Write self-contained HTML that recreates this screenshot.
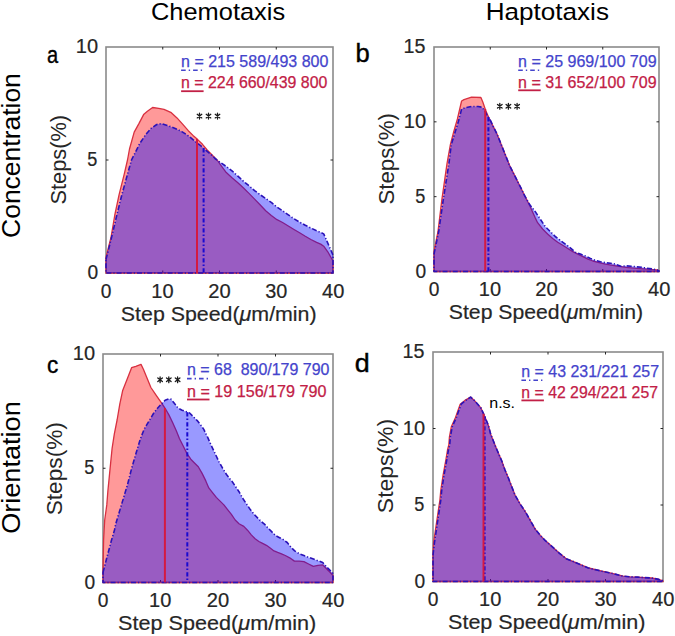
<!DOCTYPE html><html><head><meta charset="utf-8"><style>html,body{margin:0;padding:0;background:#fff;overflow:hidden}svg{display:block}text{font-family:"Liberation Sans",sans-serif;white-space:pre}</style></head><body>
<svg width="675" height="636" viewBox="0 0 675 636">
<rect width="675" height="636" fill="#fff"/>
<rect x="106" y="47" width="227" height="226" fill="none" stroke="#8a8a8a" stroke-width="1.6"/>
<line x1="162.75" y1="47" x2="162.75" y2="49.5" stroke="#262626" stroke-width="1"/>
<line x1="162.75" y1="273" x2="162.75" y2="270.5" stroke="#262626" stroke-width="1"/>
<line x1="219.50" y1="47" x2="219.50" y2="49.5" stroke="#262626" stroke-width="1"/>
<line x1="219.50" y1="273" x2="219.50" y2="270.5" stroke="#262626" stroke-width="1"/>
<line x1="276.25" y1="47" x2="276.25" y2="49.5" stroke="#262626" stroke-width="1"/>
<line x1="276.25" y1="273" x2="276.25" y2="270.5" stroke="#262626" stroke-width="1"/>
<line x1="106" y1="160.00" x2="108.5" y2="160.00" stroke="#262626" stroke-width="1"/>
<line x1="333" y1="160.00" x2="330.5" y2="160.00" stroke="#262626" stroke-width="1"/>
<path d="M106.0,257.3 L111.0,237.5 L114.8,215.0 L119.1,194.6 L124.3,173.9 L127.5,160.0 L129.5,149.0 L134.2,132.1 L138.9,123.6 L143.6,114.6 L147.4,111.3 L152.6,107.5 L158.7,108.3 L164.0,109.4 L171.3,112.7 L177.0,117.9 L182.6,124.1 L188.3,130.7 L193.0,135.4 L197.7,139.6 L202.5,144.3 L207.2,150.0 L212.8,155.7 L217.5,160.5 L220.7,165.1 L226.3,172.6 L232.0,177.8 L237.6,182.5 L243.3,187.7 L249.0,193.4 L254.6,199.1 L260.3,205.0 L265.7,210.8 L271.3,215.5 L277.0,219.7 L282.6,222.5 L288.3,226.0 L294.0,229.5 L299.6,232.8 L305.3,236.3 L310.9,239.5 L316.6,242.4 L320.7,244.1 L323.7,246.2 L327.8,251.8 L333.0,261.0 L333.0,273 L106.0,273 Z" fill="rgba(255,0,0,0.4)" stroke="#d83040" stroke-width="1.3" stroke-linejoin="round"/>
<path d="M106.0,259.5 L111.0,239.7 L117.2,213.5 L121.9,194.6 L127.6,173.9 L131.5,160.0 L135.1,152.8 L139.8,143.4 L145.5,134.9 L151.2,128.3 L156.8,124.5 L161.5,123.6 L165.7,125.0 L171.3,126.9 L177.0,129.2 L182.6,132.1 L188.3,135.8 L193.0,139.6 L197.7,143.4 L202.5,147.2 L207.2,151.4 L212.8,156.1 L215.0,158.5 L220.7,162.7 L226.3,166.5 L232.0,170.8 L237.6,175.9 L243.3,181.1 L249.0,185.8 L254.6,190.6 L260.3,194.8 L265.9,198.6 L271.6,202.6 L277.0,207.0 L282.6,210.8 L288.3,214.8 L294.0,218.8 L299.6,222.1 L305.3,225.3 L310.9,228.0 L315.6,230.3 L320.7,232.4 L323.7,233.9 L325.8,238.5 L328.9,245.7 L333.0,255.0 L333.0,273 L106.0,273 Z" fill="rgba(0,0,255,0.4)" stroke="#2a12b8" stroke-width="1.6" stroke-dasharray="5 2 1.2 2" stroke-linejoin="round"/>
<line x1="203.6" y1="148.2" x2="203.6" y2="273" stroke="#1a0ad0" stroke-width="2" stroke-dasharray="4.2 2 1.6 2.2"/>
<line x1="197.0" y1="139.0" x2="197.0" y2="273" stroke="#d41a42" stroke-width="2"/>
<text x="100.67" y="297.50" font-size="19.62" textLength="10.67" lengthAdjust="spacingAndGlyphs" fill="#262626" stroke="#262626" stroke-width="0.2">0</text>
<text x="151.25" y="297.50" font-size="19.62" textLength="22.26" lengthAdjust="spacingAndGlyphs" fill="#262626" stroke="#262626" stroke-width="0.2">10</text>
<text x="208.18" y="297.50" font-size="19.62" textLength="22.42" lengthAdjust="spacingAndGlyphs" fill="#262626" stroke="#262626" stroke-width="0.2">20</text>
<text x="265.21" y="297.50" font-size="19.62" textLength="22.10" lengthAdjust="spacingAndGlyphs" fill="#262626" stroke="#262626" stroke-width="0.2">30</text>
<text x="322.01" y="297.50" font-size="19.62" textLength="22.31" lengthAdjust="spacingAndGlyphs" fill="#262626" stroke="#262626" stroke-width="0.2">40</text>
<text x="87.38" y="279.00" font-size="19.62" textLength="10.67" lengthAdjust="spacingAndGlyphs" fill="#262626" stroke="#262626" stroke-width="0.2">0</text>
<text x="87.29" y="166.00" font-size="19.62" textLength="10.07" lengthAdjust="spacingAndGlyphs" fill="#262626" stroke="#262626" stroke-width="0.2">5</text>
<text x="75.83" y="53.00" font-size="19.62" textLength="22.26" lengthAdjust="spacingAndGlyphs" fill="#262626" stroke="#262626" stroke-width="0.2">10</text>
<rect x="434" y="47" width="225" height="224.5" fill="none" stroke="#8a8a8a" stroke-width="1.6"/>
<line x1="490.25" y1="47" x2="490.25" y2="49.5" stroke="#262626" stroke-width="1"/>
<line x1="490.25" y1="271.5" x2="490.25" y2="269.0" stroke="#262626" stroke-width="1"/>
<line x1="546.50" y1="47" x2="546.50" y2="49.5" stroke="#262626" stroke-width="1"/>
<line x1="546.50" y1="271.5" x2="546.50" y2="269.0" stroke="#262626" stroke-width="1"/>
<line x1="602.75" y1="47" x2="602.75" y2="49.5" stroke="#262626" stroke-width="1"/>
<line x1="602.75" y1="271.5" x2="602.75" y2="269.0" stroke="#262626" stroke-width="1"/>
<line x1="434" y1="196.67" x2="436.5" y2="196.67" stroke="#262626" stroke-width="1"/>
<line x1="659" y1="196.67" x2="656.5" y2="196.67" stroke="#262626" stroke-width="1"/>
<line x1="434" y1="121.83" x2="436.5" y2="121.83" stroke="#262626" stroke-width="1"/>
<line x1="659" y1="121.83" x2="656.5" y2="121.83" stroke="#262626" stroke-width="1"/>
<path d="M434.0,251.6 L438.0,231.5 L441.8,200.0 L447.0,163.6 L450.3,145.0 L453.6,132.2 L457.4,119.0 L461.6,101.0 L464.0,99.6 L471.5,97.1 L480.9,97.5 L482.8,102.0 L485.7,110.5 L489.4,118.9 L493.2,126.4 L497.0,134.0 L500.8,143.4 L504.5,152.8 L509.4,165.1 L513.2,172.6 L517.0,180.2 L520.8,187.7 L524.5,195.3 L528.3,202.8 L530.0,206.3 L535.1,217.6 L537.6,222.7 L542.6,229.0 L547.6,234.0 L552.7,238.4 L557.7,242.2 L562.7,245.3 L567.8,248.5 L572.8,251.6 L577.8,254.1 L582.9,256.6 L587.9,259.2 L592.9,261.0 L598.0,262.3 L605.4,264.2 L615.7,265.8 L626.1,267.3 L636.5,268.4 L646.9,269.2 L657.2,269.9 L659.0,270.5 L659.0,271.5 L434.0,271.5 Z" fill="rgba(255,0,0,0.4)" stroke="#d83040" stroke-width="1.3" stroke-linejoin="round"/>
<path d="M434.0,254.1 L438.7,231.5 L443.2,200.0 L448.9,163.6 L451.2,145.0 L454.5,134.1 L458.3,121.8 L461.6,109.1 L465.8,107.6 L471.5,106.5 L478.1,106.5 L481.9,107.2 L484.7,110.5 L487.5,116.1 L490.0,119.5 L493.2,126.4 L497.0,134.0 L500.8,143.4 L504.5,152.8 L509.4,165.1 L513.2,172.6 L517.0,180.2 L520.8,187.7 L524.5,195.3 L530.0,205.1 L535.1,211.4 L540.1,218.9 L545.1,226.4 L550.2,231.5 L555.2,236.5 L560.2,240.3 L565.3,244.1 L570.3,247.8 L575.3,252.2 L580.3,254.1 L585.4,256.0 L590.4,258.5 L595.4,260.4 L600.5,261.7 L605.4,262.7 L610.6,263.2 L615.7,264.2 L620.9,266.3 L626.1,265.8 L631.3,266.3 L636.5,266.8 L641.7,267.3 L646.9,268.2 L652.0,268.9 L657.2,269.9 L659.0,271.0 L659.0,271.5 L434.0,271.5 Z" fill="rgba(0,0,255,0.4)" stroke="#2a12b8" stroke-width="1.6" stroke-dasharray="5 2 1.2 2" stroke-linejoin="round"/>
<line x1="488.4" y1="117.3" x2="488.4" y2="271.5" stroke="#1a0ad0" stroke-width="2" stroke-dasharray="4.2 2 1.6 2.2"/>
<line x1="485.2" y1="109.0" x2="485.2" y2="271.5" stroke="#d41a42" stroke-width="2"/>
<text x="428.67" y="296.00" font-size="19.62" textLength="10.67" lengthAdjust="spacingAndGlyphs" fill="#262626" stroke="#262626" stroke-width="0.2">0</text>
<text x="478.75" y="296.00" font-size="19.62" textLength="22.26" lengthAdjust="spacingAndGlyphs" fill="#262626" stroke="#262626" stroke-width="0.2">10</text>
<text x="535.18" y="296.00" font-size="19.62" textLength="22.42" lengthAdjust="spacingAndGlyphs" fill="#262626" stroke="#262626" stroke-width="0.2">20</text>
<text x="591.71" y="296.00" font-size="19.62" textLength="22.10" lengthAdjust="spacingAndGlyphs" fill="#262626" stroke="#262626" stroke-width="0.2">30</text>
<text x="648.01" y="296.00" font-size="19.62" textLength="22.31" lengthAdjust="spacingAndGlyphs" fill="#262626" stroke="#262626" stroke-width="0.2">40</text>
<text x="415.38" y="277.50" font-size="19.62" textLength="10.67" lengthAdjust="spacingAndGlyphs" fill="#262626" stroke="#262626" stroke-width="0.2">0</text>
<text x="415.29" y="202.67" font-size="19.62" textLength="10.07" lengthAdjust="spacingAndGlyphs" fill="#262626" stroke="#262626" stroke-width="0.2">5</text>
<text x="403.83" y="127.83" font-size="19.62" textLength="22.26" lengthAdjust="spacingAndGlyphs" fill="#262626" stroke="#262626" stroke-width="0.2">10</text>
<text x="403.53" y="53.00" font-size="19.62" textLength="21.89" lengthAdjust="spacingAndGlyphs" fill="#262626" stroke="#262626" stroke-width="0.2">15</text>
<rect x="103" y="354" width="230" height="228.5" fill="none" stroke="#8a8a8a" stroke-width="1.6"/>
<line x1="160.50" y1="354" x2="160.50" y2="356.5" stroke="#262626" stroke-width="1"/>
<line x1="160.50" y1="582.5" x2="160.50" y2="580.0" stroke="#262626" stroke-width="1"/>
<line x1="218.00" y1="354" x2="218.00" y2="356.5" stroke="#262626" stroke-width="1"/>
<line x1="218.00" y1="582.5" x2="218.00" y2="580.0" stroke="#262626" stroke-width="1"/>
<line x1="275.50" y1="354" x2="275.50" y2="356.5" stroke="#262626" stroke-width="1"/>
<line x1="275.50" y1="582.5" x2="275.50" y2="580.0" stroke="#262626" stroke-width="1"/>
<line x1="103" y1="468.25" x2="105.5" y2="468.25" stroke="#262626" stroke-width="1"/>
<line x1="333" y1="468.25" x2="330.5" y2="468.25" stroke="#262626" stroke-width="1"/>
<path d="M103.0,568.0 L103.6,540.0 L104.7,520.0 L106.8,504.9 L107.9,490.7 L109.3,476.6 L110.7,462.4 L112.1,448.3 L114.3,434.1 L117.1,420.0 L119.8,404.1 L122.6,390.8 L127.4,378.6 L131.6,367.7 L135.8,366.3 L141.0,364.4 L143.4,369.2 L147.2,378.6 L150.9,387.5 L155.7,394.6 L161.3,402.6 L165.1,408.3 L168.9,414.9 L172.6,422.5 L176.4,430.9 L179.4,438.5 L183.2,446.0 L187.0,453.6 L190.8,459.2 L194.5,463.0 L198.3,466.8 L202.1,473.4 L205.8,480.9 L208.8,487.9 L212.5,492.6 L216.3,497.4 L220.1,501.1 L223.9,504.9 L227.6,509.6 L231.4,514.3 L235.2,520.0 L239.0,523.8 L243.8,526.4 L247.5,530.2 L251.3,534.9 L255.1,538.7 L258.9,541.5 L262.6,543.4 L266.4,545.3 L270.2,548.1 L274.0,550.9 L277.7,552.4 L281.5,553.8 L285.3,555.5 L289.7,557.8 L294.4,561.1 L299.2,561.1 L303.9,561.6 L308.6,564.0 L313.3,566.3 L318.0,565.4 L322.7,564.9 L326.5,568.7 L330.3,572.5 L333.0,575.5 L333.0,582.5 L103.0,582.5 Z" fill="rgba(255,0,0,0.4)" stroke="#d83040" stroke-width="1.3" stroke-linejoin="round"/>
<path d="M103.0,572.5 L107.4,555.5 L111.2,541.3 L114.5,530.0 L115.7,524.0 L121.6,504.3 L127.5,484.7 L131.6,468.5 L134.9,457.2 L137.7,447.7 L140.6,438.3 L144.3,428.9 L150.0,419.4 L153.8,413.0 L157.5,408.3 L161.3,404.1 L165.1,400.3 L168.9,398.9 L171.2,399.3 L174.5,403.6 L178.3,408.3 L182.1,410.2 L185.8,411.6 L189.6,413.0 L193.4,416.8 L197.2,420.6 L200.9,425.3 L203.8,429.4 L207.6,437.2 L211.4,445.7 L215.2,453.8 L219.0,461.8 L222.7,468.4 L226.5,474.5 L230.2,479.3 L231.4,480.4 L235.2,486.0 L239.0,491.7 L242.7,498.3 L246.5,504.0 L250.3,509.6 L254.1,514.3 L257.8,518.1 L261.6,521.9 L265.0,524.7 L268.3,528.3 L272.1,532.1 L275.8,535.8 L279.6,537.7 L283.4,539.6 L287.2,542.5 L290.9,547.2 L294.7,550.9 L298.5,553.3 L300.1,554.1 L303.9,555.5 L307.6,556.9 L311.4,558.3 L315.2,559.7 L319.0,561.1 L322.7,562.5 L326.5,566.8 L330.3,570.6 L333.0,573.5 L333.0,582.5 L103.0,582.5 Z" fill="rgba(0,0,255,0.4)" stroke="#2a12b8" stroke-width="1.6" stroke-dasharray="5 2 1.2 2" stroke-linejoin="round"/>
<line x1="187.3" y1="412.2" x2="187.3" y2="582.5" stroke="#1a0ad0" stroke-width="2" stroke-dasharray="4.2 2 1.6 2.2"/>
<line x1="164.9" y1="408.0" x2="164.9" y2="582.5" stroke="#d41a42" stroke-width="2"/>
<text x="97.67" y="607.00" font-size="19.62" textLength="10.67" lengthAdjust="spacingAndGlyphs" fill="#262626" stroke="#262626" stroke-width="0.2">0</text>
<text x="149.00" y="607.00" font-size="19.62" textLength="22.26" lengthAdjust="spacingAndGlyphs" fill="#262626" stroke="#262626" stroke-width="0.2">10</text>
<text x="206.68" y="607.00" font-size="19.62" textLength="22.42" lengthAdjust="spacingAndGlyphs" fill="#262626" stroke="#262626" stroke-width="0.2">20</text>
<text x="264.46" y="607.00" font-size="19.62" textLength="22.10" lengthAdjust="spacingAndGlyphs" fill="#262626" stroke="#262626" stroke-width="0.2">30</text>
<text x="322.01" y="607.00" font-size="19.62" textLength="22.31" lengthAdjust="spacingAndGlyphs" fill="#262626" stroke="#262626" stroke-width="0.2">40</text>
<text x="84.38" y="588.50" font-size="19.62" textLength="10.67" lengthAdjust="spacingAndGlyphs" fill="#262626" stroke="#262626" stroke-width="0.2">0</text>
<text x="84.29" y="474.25" font-size="19.62" textLength="10.07" lengthAdjust="spacingAndGlyphs" fill="#262626" stroke="#262626" stroke-width="0.2">5</text>
<text x="72.83" y="360.00" font-size="19.62" textLength="22.26" lengthAdjust="spacingAndGlyphs" fill="#262626" stroke="#262626" stroke-width="0.2">10</text>
<rect x="433" y="352" width="230" height="229.5" fill="none" stroke="#8a8a8a" stroke-width="1.6"/>
<line x1="490.50" y1="352" x2="490.50" y2="354.5" stroke="#262626" stroke-width="1"/>
<line x1="490.50" y1="581.5" x2="490.50" y2="579.0" stroke="#262626" stroke-width="1"/>
<line x1="548.00" y1="352" x2="548.00" y2="354.5" stroke="#262626" stroke-width="1"/>
<line x1="548.00" y1="581.5" x2="548.00" y2="579.0" stroke="#262626" stroke-width="1"/>
<line x1="605.50" y1="352" x2="605.50" y2="354.5" stroke="#262626" stroke-width="1"/>
<line x1="605.50" y1="581.5" x2="605.50" y2="579.0" stroke="#262626" stroke-width="1"/>
<line x1="433" y1="505.00" x2="435.5" y2="505.00" stroke="#262626" stroke-width="1"/>
<line x1="663" y1="505.00" x2="660.5" y2="505.00" stroke="#262626" stroke-width="1"/>
<line x1="433" y1="428.50" x2="435.5" y2="428.50" stroke="#262626" stroke-width="1"/>
<line x1="663" y1="428.50" x2="660.5" y2="428.50" stroke="#262626" stroke-width="1"/>
<path d="M433.0,555.0 L433.6,542.4 L435.7,528.3 L437.8,514.1 L439.9,500.0 L440.8,490.3 L443.1,475.2 L446.0,459.2 L447.5,450.0 L448.8,445.0 L449.4,437.2 L451.3,426.8 L455.5,417.4 L460.2,404.2 L464.9,400.4 L470.6,397.1 L474.3,400.4 L480.9,407.9 L484.7,416.4 L488.5,425.8 L490.7,434.2 L496.3,448.3 L502.0,461.5 L505.0,470.0 L508.6,478.5 L510.1,482.6 L515.1,495.2 L520.1,504.0 L525.2,511.5 L530.2,520.3 L535.2,529.1 L540.3,535.4 L545.3,540.6 L550.3,545.0 L555.3,549.5 L559.2,553.1 L566.3,558.8 L573.4,561.6 L580.6,564.7 L587.7,567.7 L594.8,569.5 L601.9,571.2 L609.0,572.7 L616.1,574.4 L623.2,576.2 L630.3,576.8 L637.4,577.1 L644.6,577.6 L651.7,578.0 L658.8,579.4 L663.0,580.8 L663.0,581.5 L433.0,581.5 Z" fill="rgba(255,0,0,0.4)" stroke="#d83040" stroke-width="1.3" stroke-linejoin="round"/>
<path d="M433.0,555.0 L434.5,542.4 L436.6,528.3 L438.7,514.1 L440.8,500.0 L441.7,490.3 L444.0,475.2 L446.9,459.2 L448.4,450.0 L449.7,445.0 L450.3,437.2 L452.2,426.8 L456.4,417.4 L461.1,404.2 L465.8,400.4 L470.6,397.1 L474.3,400.4 L480.9,407.9 L484.7,416.4 L488.5,425.8 L490.7,434.2 L496.3,448.3 L502.0,461.5 L505.0,470.0 L508.6,478.5 L510.1,482.6 L515.1,495.2 L520.1,504.0 L525.2,511.5 L530.2,520.3 L535.2,529.1 L540.3,535.4 L545.3,540.6 L550.3,545.0 L555.3,549.5 L559.2,553.1 L566.3,558.8 L573.4,561.6 L580.6,564.7 L587.7,567.7 L594.8,569.5 L601.9,571.2 L609.0,572.7 L616.1,574.4 L623.2,576.2 L630.3,576.8 L637.4,577.1 L644.6,577.6 L651.7,578.0 L658.8,579.4 L663.0,580.8 L663.0,581.5 L433.0,581.5 Z" fill="rgba(0,0,255,0.4)" stroke="#2a12b8" stroke-width="1.6" stroke-dasharray="5 2 1.2 2" stroke-linejoin="round"/>
<line x1="484.6" y1="416.2" x2="484.6" y2="581.5" stroke="#1a0ad0" stroke-width="2" stroke-dasharray="4.2 2 1.6 2.2"/>
<line x1="483.5" y1="413.7" x2="483.5" y2="581.5" stroke="#d41a42" stroke-width="2"/>
<text x="427.67" y="606.00" font-size="19.62" textLength="10.67" lengthAdjust="spacingAndGlyphs" fill="#262626" stroke="#262626" stroke-width="0.2">0</text>
<text x="479.00" y="606.00" font-size="19.62" textLength="22.26" lengthAdjust="spacingAndGlyphs" fill="#262626" stroke="#262626" stroke-width="0.2">10</text>
<text x="536.68" y="606.00" font-size="19.62" textLength="22.42" lengthAdjust="spacingAndGlyphs" fill="#262626" stroke="#262626" stroke-width="0.2">20</text>
<text x="594.46" y="606.00" font-size="19.62" textLength="22.10" lengthAdjust="spacingAndGlyphs" fill="#262626" stroke="#262626" stroke-width="0.2">30</text>
<text x="652.01" y="606.00" font-size="19.62" textLength="22.31" lengthAdjust="spacingAndGlyphs" fill="#262626" stroke="#262626" stroke-width="0.2">40</text>
<text x="414.38" y="587.50" font-size="19.62" textLength="10.67" lengthAdjust="spacingAndGlyphs" fill="#262626" stroke="#262626" stroke-width="0.2">0</text>
<text x="414.29" y="511.00" font-size="19.62" textLength="10.07" lengthAdjust="spacingAndGlyphs" fill="#262626" stroke="#262626" stroke-width="0.2">5</text>
<text x="402.83" y="434.50" font-size="19.62" textLength="22.26" lengthAdjust="spacingAndGlyphs" fill="#262626" stroke="#262626" stroke-width="0.2">10</text>
<text x="402.53" y="358.00" font-size="19.62" textLength="21.89" lengthAdjust="spacingAndGlyphs" fill="#262626" stroke="#262626" stroke-width="0.2">15</text>
<text x="120.83" y="320.50" font-size="20.64" textLength="195.79" lengthAdjust="spacingAndGlyphs" fill="#262626" stroke="#262626" stroke-width="0.2">Step Speed(<tspan font-style="italic">μ</tspan>m/min)</text>
<text x="448.84" y="318.70" font-size="20.64" textLength="194.27" lengthAdjust="spacingAndGlyphs" fill="#262626" stroke="#262626" stroke-width="0.2">Step Speed(<tspan font-style="italic">μ</tspan>m/min)</text>
<text x="118.12" y="630.20" font-size="20.64" textLength="198.12" lengthAdjust="spacingAndGlyphs" fill="#262626" stroke="#262626" stroke-width="0.2">Step Speed(<tspan font-style="italic">μ</tspan>m/min)</text>
<text x="448.02" y="629.30" font-size="20.64" textLength="197.51" lengthAdjust="spacingAndGlyphs" fill="#262626" stroke="#262626" stroke-width="0.2">Step Speed(<tspan font-style="italic">μ</tspan>m/min)</text>
<text transform="translate(66.00,203.60) rotate(-90)" x="-0.99" y="0" font-size="21.22" textLength="89.64" lengthAdjust="spacingAndGlyphs" fill="#262626" >Steps(%)</text>
<text transform="translate(394.20,203.60) rotate(-90)" x="-1.01" y="0" font-size="21.22" textLength="91.49" lengthAdjust="spacingAndGlyphs" fill="#262626" >Steps(%)</text>
<text transform="translate(62.40,514.30) rotate(-90)" x="-1.03" y="0" font-size="21.22" textLength="93.24" lengthAdjust="spacingAndGlyphs" fill="#262626" >Steps(%)</text>
<text transform="translate(392.50,512.10) rotate(-90)" x="-1.04" y="0" font-size="21.22" textLength="94.16" lengthAdjust="spacingAndGlyphs" fill="#262626" >Steps(%)</text>
<text x="151.01" y="20.10" font-size="24.71" textLength="134.11" lengthAdjust="spacingAndGlyphs" fill="#000" >Chemotaxis</text>
<text x="485.66" y="20.10" font-size="24.71" textLength="123.28" lengthAdjust="spacingAndGlyphs" fill="#000" >Haptotaxis</text>
<text transform="translate(20.30,236.60) rotate(-90)" x="-1.34" y="0" font-size="25.00" textLength="164.76" lengthAdjust="spacingAndGlyphs" fill="#000" >Concentration</text>
<text transform="translate(20.10,532.60) rotate(-90)" x="-1.28" y="0" font-size="25.00" textLength="132.65" lengthAdjust="spacingAndGlyphs" fill="#000" >Orientation</text>
<text x="47.05" y="62.60" font-size="24.13" textLength="11.15" lengthAdjust="spacingAndGlyphs" fill="#000" stroke="#000" stroke-width="0.4">a</text>
<text x="355.55" y="61.70" font-size="25.58" textLength="14.22" lengthAdjust="spacingAndGlyphs" fill="#000" stroke="#000" stroke-width="0.4">b</text>
<text x="46.94" y="372.60" font-size="24.13" textLength="11.25" lengthAdjust="spacingAndGlyphs" fill="#000" stroke="#000" stroke-width="0.4">c</text>
<text x="354.67" y="371.80" font-size="25.58" textLength="14.96" lengthAdjust="spacingAndGlyphs" fill="#000" stroke="#000" stroke-width="0.4">d</text>
<text x="181.04" y="66.80" font-size="15.70" textLength="147.39" lengthAdjust="spacingAndGlyphs" fill="#4444cc" stroke="#4444cc" stroke-width="0.25">n = 215 589/493 800</text>
<line x1="181.1" y1="70.2" x2="203.1" y2="70.2" stroke="#4444cc" stroke-width="1.6" stroke-dasharray="4.6 3 1.4 3"/>
<text x="181.04" y="88.40" font-size="15.70" textLength="146.28" lengthAdjust="spacingAndGlyphs" fill="#c22046" stroke="#c22046" stroke-width="0.25">n = 224 660/439 800</text>
<line x1="181.1" y1="91.2" x2="203.6" y2="91.2" stroke="#c22046" stroke-width="1.8"/>
<text x="518.14" y="66.80" font-size="15.70" textLength="138.42" lengthAdjust="spacingAndGlyphs" fill="#4444cc" stroke="#4444cc" stroke-width="0.25">n = 25 969/100 709</text>
<line x1="518.2" y1="70.2" x2="540.2" y2="70.2" stroke="#4444cc" stroke-width="1.6" stroke-dasharray="4.6 3 1.4 3"/>
<text x="518.14" y="87.50" font-size="15.70" textLength="138.42" lengthAdjust="spacingAndGlyphs" fill="#c22046" stroke="#c22046" stroke-width="0.25">n = 31 652/100 709</text>
<line x1="518.2" y1="90.3" x2="540.7" y2="90.3" stroke="#c22046" stroke-width="1.8"/>
<text x="186.94" y="375.20" font-size="15.70" textLength="142.48" lengthAdjust="spacingAndGlyphs" fill="#4444cc" stroke="#4444cc" stroke-width="0.25">n = 68  890/179 790</text>
<line x1="187.0" y1="378.6" x2="209.0" y2="378.6" stroke="#4444cc" stroke-width="1.6" stroke-dasharray="4.6 3 1.4 3"/>
<text x="186.93" y="396.70" font-size="15.70" textLength="139.50" lengthAdjust="spacingAndGlyphs" fill="#c22046" stroke="#c22046" stroke-width="0.25">n = 19 156/179 790</text>
<line x1="187.0" y1="399.5" x2="209.5" y2="399.5" stroke="#c22046" stroke-width="1.8"/>
<text x="521.34" y="376.80" font-size="15.70" textLength="137.76" lengthAdjust="spacingAndGlyphs" fill="#4444cc" stroke="#4444cc" stroke-width="0.25">n = 43 231/221 257</text>
<line x1="521.4" y1="380.2" x2="543.4" y2="380.2" stroke="#4444cc" stroke-width="1.6" stroke-dasharray="4.6 3 1.4 3"/>
<text x="521.35" y="397.60" font-size="15.70" textLength="136.64" lengthAdjust="spacingAndGlyphs" fill="#c22046" stroke="#c22046" stroke-width="0.25">n = 42 294/221 257</text>
<line x1="521.4" y1="400.4" x2="543.9" y2="400.4" stroke="#c22046" stroke-width="1.8"/>
<path d="M199.50,113.20 L199.50,119.00 M197.21,114.31 L201.79,117.89 M201.79,114.31 L197.21,117.89 " stroke="#1a1a1a" stroke-width="1.3" fill="none" stroke-linecap="round"/>
<path d="M208.50,113.20 L208.50,119.00 M206.21,114.31 L210.79,117.89 M210.79,114.31 L206.21,117.89 " stroke="#1a1a1a" stroke-width="1.3" fill="none" stroke-linecap="round"/>
<path d="M217.50,113.20 L217.50,119.00 M215.21,114.31 L219.79,117.89 M219.79,114.31 L215.21,117.89 " stroke="#1a1a1a" stroke-width="1.3" fill="none" stroke-linecap="round"/>
<path d="M499.80,103.40 L499.80,109.20 M497.51,104.51 L502.09,108.09 M502.09,104.51 L497.51,108.09 " stroke="#1a1a1a" stroke-width="1.3" fill="none" stroke-linecap="round"/>
<path d="M508.40,103.40 L508.40,109.20 M506.11,104.51 L510.69,108.09 M510.69,104.51 L506.11,108.09 " stroke="#1a1a1a" stroke-width="1.3" fill="none" stroke-linecap="round"/>
<path d="M517.10,103.40 L517.10,109.20 M514.81,104.51 L519.39,108.09 M519.39,104.51 L514.81,108.09 " stroke="#1a1a1a" stroke-width="1.3" fill="none" stroke-linecap="round"/>
<path d="M160.10,376.90 L160.10,382.70 M157.81,378.01 L162.39,381.59 M162.39,378.01 L157.81,381.59 " stroke="#1a1a1a" stroke-width="1.3" fill="none" stroke-linecap="round"/>
<path d="M168.80,376.90 L168.80,382.70 M166.51,378.01 L171.09,381.59 M171.09,378.01 L166.51,381.59 " stroke="#1a1a1a" stroke-width="1.3" fill="none" stroke-linecap="round"/>
<path d="M177.60,376.90 L177.60,382.70 M175.31,378.01 L179.89,381.59 M179.89,378.01 L175.31,381.59 " stroke="#1a1a1a" stroke-width="1.3" fill="none" stroke-linecap="round"/>
<text x="489.24" y="407.80" font-size="14.39" textLength="25.83" lengthAdjust="spacingAndGlyphs" fill="#000" >n.s.</text>
</svg></body></html>
